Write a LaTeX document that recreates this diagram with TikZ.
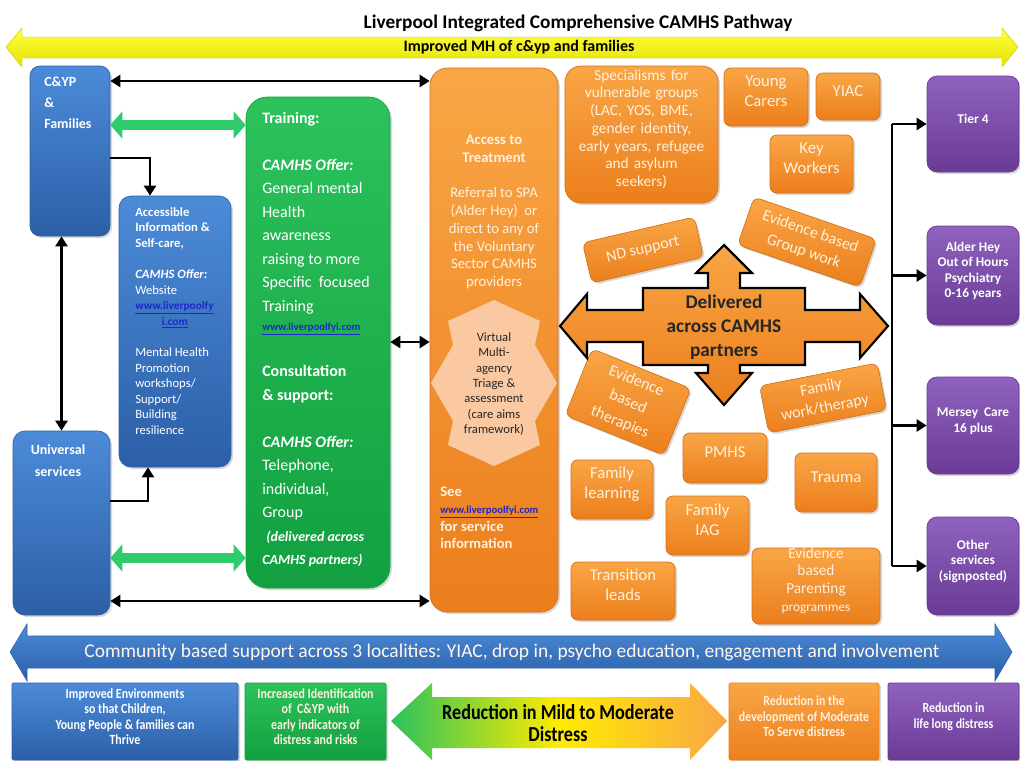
\documentclass[tikz,border=0pt]{standalone}
\usepackage{fontspec}
\setmainfont{Carlito}
\newfontfamily\narrowfont[FakeStretch=0.85]{Carlito}
\usetikzlibrary{arrows.meta, calc, fit, shadows}

\definecolor{bluetop}{HTML}{4C8BD8}
\definecolor{bluebot}{HTML}{2C5FA8}
\definecolor{greentop}{HTML}{2CC25C}
\definecolor{greenbot}{HTML}{12A040}
\definecolor{fatgreen}{HTML}{2ECC6A}
\definecolor{orangetop}{HTML}{F9A646}
\definecolor{orangebot}{HTML}{EC7E1C}
\definecolor{purptop}{HTML}{8F62BF}
\definecolor{purpbot}{HTML}{693B95}
\definecolor{cream}{HTML}{FFF1DE}
\definecolor{peach}{HTML}{FAC9A2}
\definecolor{linkblue}{HTML}{1F28C8}
\definecolor{yellowtop}{HTML}{FFFF40}
\definecolor{yellowbot}{HTML}{E4E400}

\newcommand\lnk[1]{\textcolor{linkblue}{\underline{#1}}}

\begin{document}
\begin{tikzpicture}[x=0.75pt, y=-0.75pt,
  panel/.style={inner sep=0pt, line width=0.5pt, drop shadow={opacity=0.3, shadow xshift=1.5pt, shadow yshift=-1.5pt}},
  bluebox/.style={panel, draw=bluebot, top color=bluetop, bottom color=bluebot, rounded corners=7.5pt},
  greenbox/.style={panel, draw=greenbot, top color=greentop, bottom color=greenbot, rounded corners=16pt},
  orangebox/.style={panel, draw=orangebot!90!black, top color=orangetop, bottom color=orangebot, rounded corners=12pt},
  purplebox/.style={panel, draw=purpbot, top color=purptop, bottom color=purpbot, rounded corners=7.5pt, text=white, align=center, font=\bfseries\fontsize{10}{11.5}\selectfont},
  tagbox/.style={orangebox, rounded corners=5pt, text=cream, align=center, font=\fontsize{12.5}{15}\selectfont},
  flatbox/.style={panel, rounded corners=1pt, align=center, text=white, font=\narrowfont\bfseries\fontsize{10.5}{11.6}\selectfont},
  wtext/.style={inner sep=0pt, text=white},
  conn/.style={line width=2.2pt, -{Triangle[length=7.5pt, width=9pt]}},
  dblarrow/.style={line width=2.2pt, {Triangle[length=7.5pt, width=9pt]}-{Triangle[length=7.5pt, width=9pt]}},
  fatarrow/.style={line width=8pt, draw=fatgreen, {Triangle[length=9pt, width=20pt]}-{Triangle[length=9pt, width=20pt]}}]

\useasboundingbox (0,0) rectangle (1020,760);
\fill[white] (0,0) rectangle (1020,760);

\draw[top color=yellowtop, bottom color=yellowbot, draw=yellowbot!85!black, line width=0.3pt] (6,47) -- (22,28) -- (22,37) -- (1002,37) -- (1002,28) -- (1018,47) -- (1002,67) -- (1002,58) -- (22,58) -- (22,67) -- cycle;
\node[font=\bfseries\fontsize{14.5}{17}\selectfont] (title) at (578,23) {Liverpool Integrated Comprehensive CAMHS Pathway};
\node[font=\bfseries\fontsize{12}{14}\selectfont] (mh) at (519,47) {Improved MH of c\&yp and families};

\node[bluebox, fit={(30,66) (110,236)}] (cyp) {};
\node[wtext, anchor=north west, align=left, font=\bfseries\fontsize{10.5}{15.4}\selectfont] (cyptxt) at (44,77) {C\&YP\\\&\\Families};

\node[bluebox, rounded corners=9pt, fit={(119,196) (231,467)}] (info) {};
\node[wtext, anchor=north west, align=left, font=\fontsize{9.5}{11.7}\selectfont] (infotxt) at (135,207) {{\bfseries Accessible}\\
  {\bfseries Information \&}\\
  {\bfseries Self-care,}\\[11.7pt]
  {\bfseries\itshape CAMHS Offer:}\\
  Website\\
  {\bfseries\fontsize{8.5}{10}\selectfont\lnk{www.liverpoolfy}}\\
  \hspace*{20pt}{\bfseries\fontsize{8.5}{10}\selectfont\lnk{i.com}}\\[11.7pt]
  Mental Health\\ Promotion\\ workshops/\\ Support/\\ Building\\ resilience};

\node[bluebox, rounded corners=9pt, fit={(13,431) (110,615)}] (uni) {};
\node[wtext, anchor=north, align=center, font=\bfseries\fontsize{10.5}{16.5}\selectfont] (unitxt) at (58,444) {Universal\\services};

\node[greenbox, fit={(246,97) (390,588)}] (train) {};
\node[wtext, anchor=north west, align=left, font=\fontsize{12}{17.6}\selectfont] (traintxt) at (262,112) {{\bfseries Training:}\\[17.6pt]
  {\bfseries\itshape CAMHS Offer:}\\
  General mental\\ Health\\ awareness\\ raising to more\\ Specific~ focused\\ Training\\[-3pt]
  {\bfseries\fontsize{8}{10}\selectfont\lnk{www.liverpoolfyi.com}}\\[17pt]
  {\bfseries Consultation}\\
  {\bfseries \& support:}\\[17.6pt]
  {\bfseries\itshape CAMHS Offer:}\\
  Telephone,\\ individual,\\ Group\\
  \hspace*{3pt}{\bfseries\itshape\fontsize{10.5}{12}\selectfont(delivered across}\\
  {\bfseries\itshape\fontsize{10.5}{12}\selectfont CAMHS partners)}};

\node[orangebox, rounded corners=13pt, fit={(430,68) (558,612)}] (access) {};
\node[anchor=north, inner sep=0pt, text=cream, align=center, font=\fontsize{11}{13.3}\selectfont] (accesstxt) at (494,135) {\textbf{Access to}\\ \textbf{Treatment}\\[13.3pt] Referral to SPA\\ (Alder Hey)~ or\\ direct to any of\\ the Voluntary\\ Sector CAMHS\\ providers};
\fill[peach] (494,300) -- (540,321) -- (535,345) -- (557,383) -- (535,421) -- (540,445) -- (494,466) -- (448,445) -- (453,421) -- (431,383) -- (453,345) -- (448,321) -- cycle;
\node[inner sep=0pt, align=center, text=black!85, font=\fontsize{9.5}{11.6}\selectfont] (triage) at (494,384) {Virtual\\ Multi-\\ agency\\ Triage \&\\ assessment\\ (care aims\\ framework)};
\node[anchor=north west, inner sep=0pt, align=left, text=cream, font=\bfseries\fontsize{11}{12.8}\selectfont] (seetxt) at (440,487) {See\\ {\fontsize{8}{10}\selectfont\lnk{www.liverpoolfyi.com}}\\ for service\\ information};

\draw[dblarrow] (cyp.east |- 0,81) -- (access.west |- 0,81);
\draw[fatarrow] (cyp.east |- 0,125) -- (train.west |- 0,125);
\draw[conn] (cyp.east |- 0,158) -| (info.north -| 150,0);
\draw[dblarrow] (cyp.south -| uni.north) -- (uni.north);
\draw[conn] (uni.east |- 0,501) -| (info.south -| 148,0);
\draw[fatarrow] (uni.east |- 0,558) -- (train.west |- 0,558);
\draw[dblarrow] (uni.east |- 0,601) -- (access.west |- 0,601);
\draw[dblarrow] (train.east |- 0,342) -- (access.west |- 0,342);

\node[orangebox, fit={(565,66) (718,203)}, text=cream, align=center, font=\fontsize{11.5}{13.3}\selectfont] (spec) {Specialisms for\\ vulnerable groups\\ (LAC, YOS, BME,\\ gender identity,\\ early years, refugee\\ and asylum\\ seekers)};
\node[tagbox, fit={(724,68) (808,126)}] (carers) {Young\\ Carers};
\node[tagbox, fit={(816,73) (880,120)}] (yiac) {YIAC};
\node[tagbox, fit={(770,135) (853,193)}] (keyw) {Key\\ Workers};
\node[tagbox, font=\fontsize{12}{14}\selectfont, rotate=13, minimum width=86pt, minimum height=31pt] (nd) at (643,250) {ND support};
\node[tagbox, font=\fontsize{12}{15.5}\selectfont, rotate=-19, minimum width=97pt, minimum height=38pt] (group) at (807,242) {Evidence based\\ Group work};
\node[tagbox, font=\fontsize{12}{16.5}\selectfont, rotate=-22, minimum width=80pt, minimum height=54pt] (therap) at (628,402) {Evidence\\ based\\ therapies};
\node[tagbox, font=\fontsize{12}{15.5}\selectfont, rotate=11, minimum width=90pt, minimum height=36pt] (famwork) at (823,398) {Family\\ work/therapy};
\node[tagbox, fit={(683,433) (767,483)}] (pmhs) {PMHS};
\node[tagbox, fit={(795,453) (877,512)}] (trauma) {Trauma};
\node[tagbox, fit={(571,460) (653,519)}] (famlearn) {Family\\ learning};
\node[tagbox, fit={(666,496) (749,555)}] (famiag) {Family\\ IAG};
\node[tagbox, fit={(571,562) (675,620)}] (trans) {Transition\\ leads};
\node[tagbox, font=\fontsize{11.5}{13.4}\selectfont, fit={(752,548) (880,624)}] (parent) {Evidence\\ based\\ Parenting\\ {\fontsize{10}{12}\selectfont programmes}};

\draw[top color=orangetop, bottom color=orangebot, draw=black, line width=1.6pt, line join=miter] (560,326) -- (587,294) -- (587,310) -- (643,310) -- (643,288) -- (708,288) -- (708,273) -- (696,273) -- (724,245) -- (752,273) -- (740,273) -- (740,288) -- (805,288) -- (805,310) -- (860,310) -- (860,294) -- (888,326) -- (860,358) -- (860,342) -- (805,342) -- (805,365) -- (740,365) -- (740,373) -- (752,373) -- (724,405) -- (696,373) -- (708,373) -- (708,365) -- (643,365) -- (643,342) -- (587,342) -- (587,358) -- cycle;
\node[font=\bfseries\fontsize{14.5}{18}\selectfont, align=center, text=black!85] (deliv) at (724,327) {Delivered\\ across CAMHS\\ partners};

\node[purplebox, fit={(927,76) (1019,172)}] (tier) {Tier 4};
\node[purplebox, fit={(927,226) (1019,325)}] (ahey) {Alder Hey\\ Out of Hours\\ Psychiatry\\ 0-16 years};
\node[purplebox, fit={(927,377) (1019,474)}] (mersey) {Mersey~ Care\\ 16 plus};
\node[purplebox, fit={(927,517) (1019,615)}] (other) {Other\\ services\\ (signposted)};
\coordinate (bus) at (892,0);
\draw[line width=2.2pt] (bus |- tier.west) -- (bus |- other.west);
\foreach \n in {tier, ahey, mersey, other}
  \draw[conn] (bus |- \n.west) -- (\n.west);

\draw[top color=bluetop, bottom color=bluebot, draw=bluebot, line width=0.4pt] (10,652) -- (27,624) -- (27,636) -- (995,636) -- (995,624) -- (1012,652) -- (995,681) -- (995,668) -- (27,668) -- (27,681) -- cycle;
\node[text=cream!60!white, font=\fontsize{14.6}{16}\selectfont] (comm) at (512,652) {Community based support across 3 localities: YIAC, drop in, psycho education, engagement and involvement};

\node[flatbox, draw=bluebot, top color=bluetop, bottom color=bluebot, fit={(12,683) (238,760)}] (envbox) {Improved Environments\\ so that Children,\\ Young People \& families can\\ Thrive};
\node[flatbox, draw=greenbot, top color=greentop, bottom color=greenbot, text=cream, fit={(245,683) (386,760)}] (ident) {Increased Identification\\ of~ C\&YP with\\ early indicators of\\ distress and risks};
\shade[left color=greentop, right color=orangetop, middle color=yellow!85!orange] (391,721) -- (432,683) -- (432,697) -- (690,697) -- (690,683) -- (727,721) -- (690,760) -- (690,748) -- (432,748) -- (432,760) -- cycle;
\node[font=\narrowfont\bfseries\fontsize{16}{17}\selectfont, align=center] (mild) at (558,723) {Reduction in Mild to Moderate\\ Distress};
\node[flatbox, draw=orangebot, top color=orangetop, bottom color=orangebot, text=cream, fit={(729,683) (879,760)}] (modbox) {Reduction in the\\ development of Moderate\\ To Serve distress};
\node[flatbox, draw=purpbot, top color=purptop, bottom color=purpbot, fit={(888,683) (1019,760)}] (lifebox) {Reduction in\\ life long distress};
\end{tikzpicture}
\end{document}
